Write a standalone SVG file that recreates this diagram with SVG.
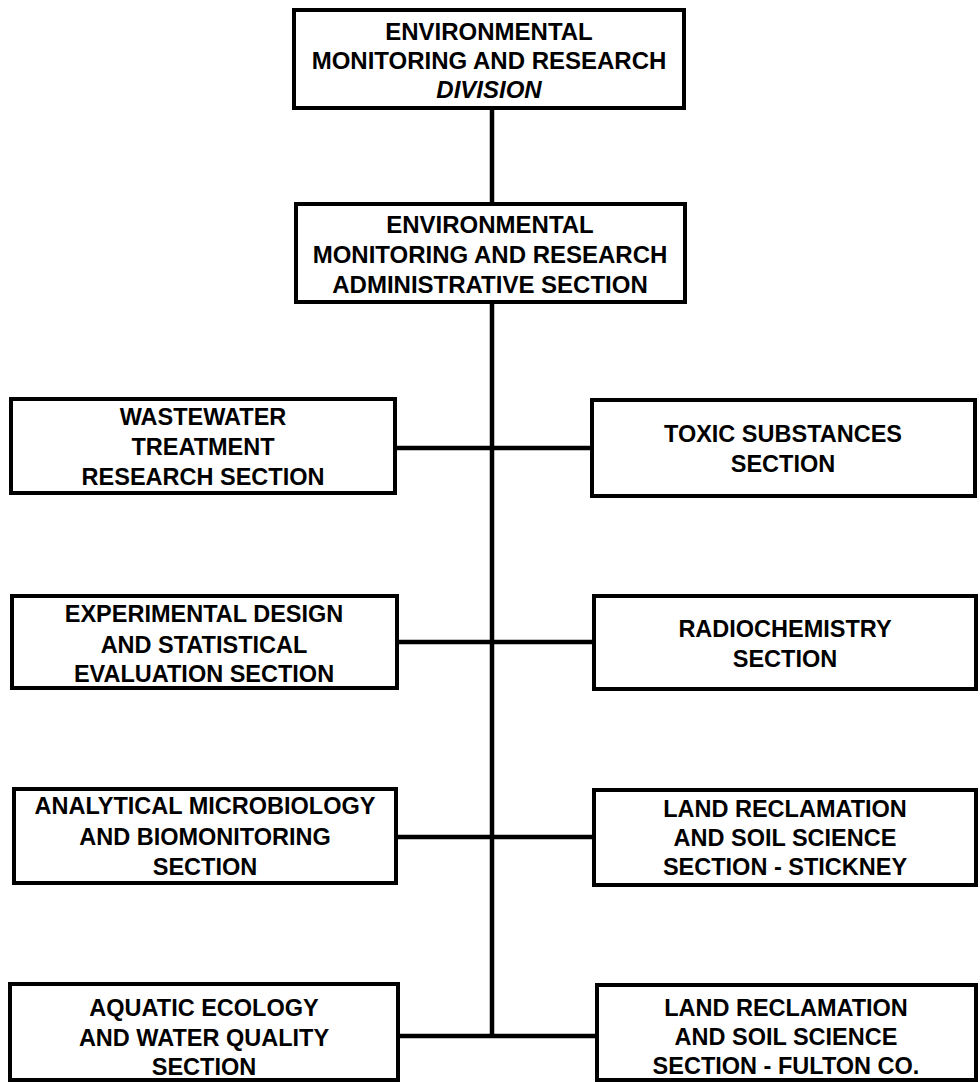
<svg xmlns="http://www.w3.org/2000/svg" width="980" height="1082" viewBox="0 0 980 1082">
  <style>
    .box { fill: #ffffff; stroke: #000000; stroke-width: 4; }
    .link { fill: none; stroke: #000000; stroke-width: 4.5; }
    text { font-family: "Liberation Sans", Arial, sans-serif; font-weight: bold; font-size: 23.5px; fill: #000000; text-anchor: middle; }
    .head { font-size: 24px; }
    .it { font-style: italic; }
  </style>
  <rect width="980" height="1082" fill="#ffffff"/>

  <!-- connectors -->
  <g id="connectors">
    <line class="link" x1="492" y1="108" x2="492" y2="204"/>
    <line class="link" x1="492" y1="302" x2="492" y2="1036"/>
    <line class="link" x1="397" y1="448" x2="592" y2="448"/>
    <line class="link" x1="399" y1="642" x2="594" y2="642"/>
    <line class="link" x1="398" y1="837" x2="594" y2="837"/>
    <line class="link" x1="400" y1="1036" x2="597" y2="1036"/>
  </g>

  <!-- division -->
  <g id="division">
    <rect class="box" x="294" y="10" width="390" height="98"/>
    <text class="head" x="489" y="40">ENVIRONMENTAL</text>
    <text class="head" x="489" y="69">MONITORING AND RESEARCH</text>
    <text class="head it" x="489" y="98">DIVISION</text>
  </g>

  <!-- administrative section -->
  <g id="admin">
    <rect class="box" x="296" y="204" width="389" height="98"/>
    <text class="head" x="490" y="233">ENVIRONMENTAL</text>
    <text class="head" x="490" y="263">MONITORING AND RESEARCH</text>
    <text class="head" x="490" y="293">ADMINISTRATIVE SECTION</text>
  </g>

  <!-- row 1 -->
  <g id="wastewater">
    <rect class="box" x="11" y="399" width="384" height="94"/>
    <text x="203" y="425">WASTEWATER</text>
    <text x="203" y="455">TREATMENT</text>
    <text x="203" y="485">RESEARCH SECTION</text>
  </g>
  <g id="toxic">
    <rect class="box" x="592" y="400" width="383" height="96"/>
    <text x="783" y="442">TOXIC SUBSTANCES</text>
    <text x="783" y="472">SECTION</text>
  </g>

  <!-- row 2 -->
  <g id="experimental">
    <rect class="box" x="12" y="596" width="385" height="92"/>
    <text x="204" y="622">EXPERIMENTAL DESIGN</text>
    <text x="204" y="653">AND STATISTICAL</text>
    <text x="204" y="682">EVALUATION SECTION</text>
  </g>
  <g id="radiochemistry">
    <rect class="box" x="594" y="596" width="382" height="93"/>
    <text x="785" y="637">RADIOCHEMISTRY</text>
    <text x="785" y="667">SECTION</text>
  </g>

  <!-- row 3 -->
  <g id="microbiology">
    <rect class="box" x="14" y="789" width="382" height="94"/>
    <text x="205" y="814">ANALYTICAL MICROBIOLOGY</text>
    <text x="205" y="845">AND BIOMONITORING</text>
    <text x="205" y="875">SECTION</text>
  </g>
  <g id="land-stickney">
    <rect class="box" x="594" y="790" width="382" height="95"/>
    <text x="785" y="817">LAND RECLAMATION</text>
    <text x="785" y="846">AND SOIL SCIENCE</text>
    <text x="785" y="875">SECTION - STICKNEY</text>
  </g>

  <!-- row 4 -->
  <g id="aquatic">
    <rect class="box" x="10" y="984" width="388" height="96"/>
    <text x="204" y="1016">AQUATIC ECOLOGY</text>
    <text x="204" y="1046">AND WATER QUALITY</text>
    <text x="204" y="1075">SECTION</text>
  </g>
  <g id="land-fulton">
    <rect class="box" x="597" y="985" width="379" height="95"/>
    <text x="786" y="1016">LAND RECLAMATION</text>
    <text x="786" y="1045">AND SOIL SCIENCE</text>
    <text x="786" y="1074">SECTION - FULTON CO.</text>
  </g>
</svg>
